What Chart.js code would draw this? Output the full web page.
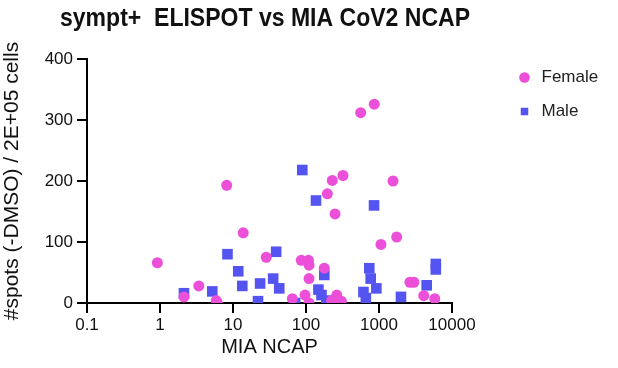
<!DOCTYPE html>
<html>
<head>
<meta charset="utf-8">
<script src="https://cdn.jsdelivr.net/npm/chart.js@4"></script>
<style>
  html, body { margin: 0; padding: 0; background: #fff; }
  #wrap { width: 618px; height: 368px; }
</style>
</head>
<body>
<div id="wrap"><canvas id="scatterChart" width="618" height="368"></canvas></div>
<script>
const femaleX = [0.92, 2.13, 3.4, 5.9, 6.1, 8.2, 13.8, 28.5, 65, 86, 97, 108, 110, 110, 110, 178,
    196, 225, 229, 250, 264, 305, 321, 561, 862, 1065, 1555, 1746, 2650, 3000, 4100, 5800];
const femaleY = [66, 10, 28, 4, 0, 193, 115, 75, 7, 70, 13, 70, 62, 40, 0, 57,
    179, 4, 201, 146, 13, 3, 209, 312, 326, 96, 200, 108, 34, 34, 12, 7];
const maleX = [2.13, 5.2, 8.4, 11.8, 13.4, 22, 23.5, 35.5, 39, 43, 71, 89, 137, 148,
    163, 178, 190, 612, 660, 736, 770, 855, 920, 2000, 4500, 6000, 6000];
const maleY = [16, 19, 80, 52, 28, 3, 32, 40, 84, 24, 0, 218, 168, 22,
    13, 46, 4, 18, 8, 57, 40, 160, 24, 10, 29, 64, 55];
const xTicks = [0.1, 1, 10, 100, 1000, 10000];
const yTicks = [0, 100, 200, 300, 400];

const toPoints = (xs, ys) => xs.map((x, i) => ({ x: x, y: ys[i] }));

const font = 'Arial, "Liberation Sans", sans-serif';

// legend and title sit where they are in the original figure
const blockShift = {
    id: 'blockShift',
    afterLayout(chart) {
        const lg = chart.legend;
        const dx = 499 - lg.left;
        lg.left += dx;
        lg.right += dx;
        const tb = chart.titleBlock;
        tb.left = 60;
        tb.right = 470;
        tb.width = 410;
    }
};

const scatterContext = document.getElementById('scatterChart').getContext('2d');
const scatterChart = new Chart(scatterContext, {
    type: 'scatter',
    data: {
        datasets: [
            {
                label: 'Female',
                data: toPoints(femaleX, femaleY),
                pointStyle: 'circle',
                pointRadius: 5.5,
                backgroundColor: 'rgba(236, 80, 216, 1)',
                borderColor: 'rgba(236, 80, 216, 1)',
                borderWidth: 0
            },
            {
                label: 'Male',
                data: toPoints(maleX, maleY),
                pointStyle: 'rect',
                pointRadius: 7.5,
                backgroundColor: 'rgba(84, 84, 240, 1)',
                borderColor: 'rgba(84, 84, 240, 1)',
                borderWidth: 0
            }
        ]
    },
    plugins: [blockShift],
    options: {
        responsive: false,
        animation: false,
        layout: {
            padding: { left: 0, right: 12, top: 4, bottom: 0 }
        },
        plugins: {
            title: {
                display: true,
                text: 'sympt+  ELISPOT vs MIA CoV2 NCAP',
                color: '#111',
                font: { family: font, size: 25, weight: 'bold' },
                padding: { top: 0, bottom: 25 }
            },
            legend: {
                position: 'right',
                align: 'start',
                title: {
                    display: true,
                    text: '',
                    font: { size: 10 },
                    padding: { top: 36, bottom: 0 }
                },
                labels: {
                    usePointStyle: true,
                    boxHeight: 7.5,
                    color: '#222',
                    font: { family: font, size: 17 },
                    padding: 17
                }
            },
            tooltip: { enabled: false }
        },
        scales: {
            x: {
                type: 'logarithmic',
                min: 0.1,
                max: 10000,
                afterBuildTicks: (scale) => {
                    scale.ticks = xTicks.map(v => ({ value: v }));
                },
                afterFit: (scale) => {
                    scale.height = 65;
                    scale.paddingRight = 166;
                },
                ticks: {
                    color: '#111',
                    font: { family: font, size: 17 },
                    maxRotation: 0,
                    autoSkip: false,
                    padding: 2,
                    callback: (value) => String(value)
                },
                grid: {
                    drawOnChartArea: false,
                    color: '#000',
                    lineWidth: 2,
                    tickLength: 10
                },
                border: { color: '#000', width: 2 },
                title: {
                    display: true,
                    text: 'MIA NCAP',
                    color: '#111',
                    font: { family: font, size: 20 },
                    padding: { top: 0, bottom: 9 }
                }
            },
            y: {
                min: 0,
                max: 400,
                afterBuildTicks: (scale) => {
                    scale.ticks = yTicks.map(v => ({ value: v }));
                },
                afterFit: (scale) => {
                    scale.width = 87;
                },
                ticks: {
                    color: '#111',
                    font: { family: font, size: 17 },
                    padding: 4
                },
                grid: {
                    drawOnChartArea: false,
                    color: '#000',
                    lineWidth: 2,
                    tickLength: 10
                },
                border: { color: '#000', width: 2 },
                title: {
                    display: true,
                    text: '#spots (-DMSO) / 2E+05 cells',
                    color: '#111',
                    font: { family: font, size: 21 },
                    padding: { top: 0, bottom: 4 }
                }
            }
        }
    }
});
</script>
</body>
</html>
